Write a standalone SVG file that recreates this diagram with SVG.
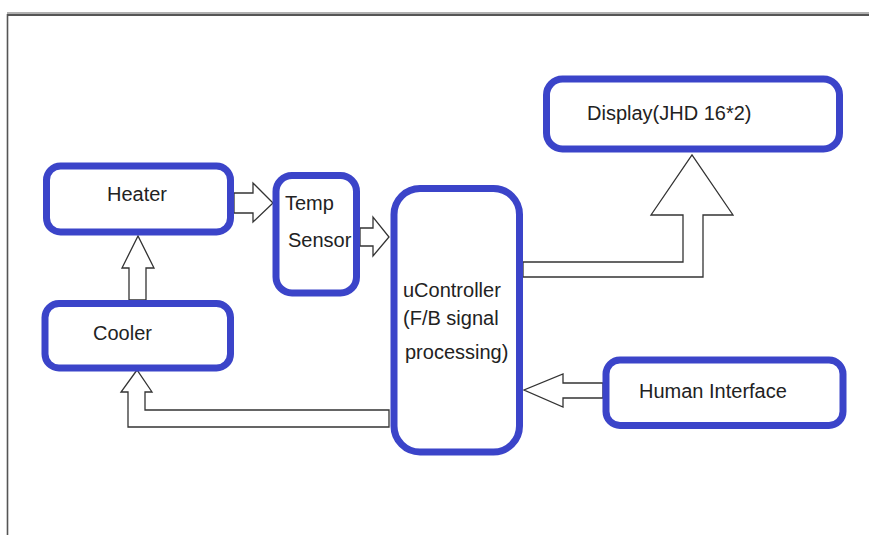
<svg xmlns="http://www.w3.org/2000/svg" width="869" height="535" viewBox="0 0 869 535">
<style>
.box{fill:#fff;stroke:#3b44c9;stroke-width:7}
.arr{fill:#fff;stroke:#333;stroke-width:1.3;stroke-linejoin:miter}
.t{font-family:"Liberation Sans",Arial,sans-serif;font-size:20px;fill:#222}
</style>
<rect width="869" height="535" fill="#fff"/>
<g id="frame">
<line x1="7" y1="13" x2="869" y2="13" stroke="#b0b0b0" stroke-width="2"/>
<line x1="7" y1="15" x2="869" y2="15" stroke="#555" stroke-width="2"/>
<line x1="7.5" y1="14" x2="7.5" y2="535" stroke="#555" stroke-width="1.6"/>
</g>
<g id="connectors">
<polygon class="arr" points="234,193 253,193 253,183 273,203 253,222 253,213 234,213"/>
<polygon class="arr" points="129,300 129,268 122,268 138,236 154,268 146,268 146,300"/>
<polygon class="arr" points="360,228 373,228 373,217 389,237 373,256 373,246 360,246"/>
<polygon class="arr" points="523,262 683,262 683,215 651,215 692,155 733,215 703,215 703,277 523,277"/>
<polygon class="arr" points="603,383 563,383 563,374 524,390 563,407 563,398 603,398"/>
<polygon class="arr" points="389,410 145,410 145,392 152,392 137,370 121,392 128,392 128,427 389,427"/>
</g>
<g id="heater">
<rect class="box" x="46.5" y="166" width="184" height="66" rx="14"/>
<text class="t" x="107" y="201">Heater</text>
</g>
<g id="temp-sensor">
<rect class="box" x="276" y="175.5" width="80.5" height="117.5" rx="16"/>
<text class="t" x="285" y="210" font-size="19">Temp</text>
<text class="t" x="288" y="247" font-size="19">Sensor</text>
</g>
<g id="cooler">
<rect class="box" x="45" y="303.5" width="185.5" height="64.5" rx="14"/>
<text class="t" x="93" y="340">Cooler</text>
</g>
<g id="ucontroller">
<rect class="box" x="394" y="188.5" width="125.5" height="263.5" rx="26"/>
<text class="t" x="403" y="297" font-size="21">uController</text>
<text class="t" x="403" y="325">(F/B signal</text>
<text class="t" x="405" y="359">processing)</text>
</g>
<g id="display">
<rect class="box" x="546.5" y="79" width="293" height="70" rx="16"/>
<text class="t" x="587" y="120" font-size="19.5">Display(JHD 16*2)</text>
</g>
<g id="human-interface">
<rect class="box" x="606" y="360" width="237" height="65.5" rx="14"/>
<text class="t" x="639" y="398" font-size="21">Human Interface</text>
</g>
</svg>
